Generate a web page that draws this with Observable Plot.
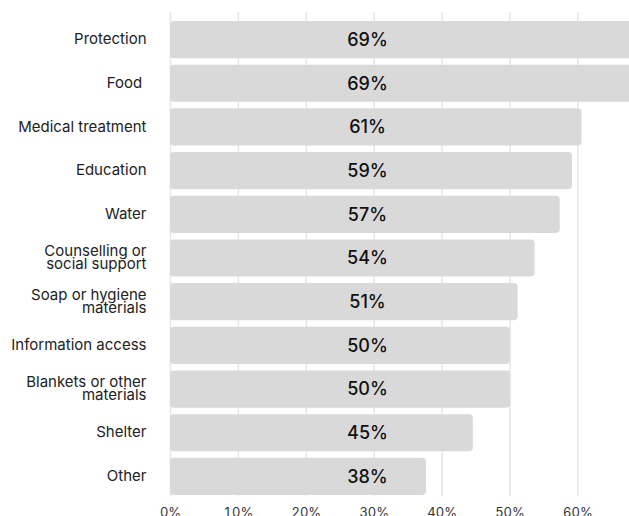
<!DOCTYPE html>
<html>
<head>
<meta charset="utf-8">
<script src="https://cdn.jsdelivr.net/npm/d3@7"></script>
<script src="https://cdn.jsdelivr.net/npm/@observablehq/plot@0.6"></script>
<style>
  html, body { margin: 0; padding: 0; background: #fff; overflow: hidden; }
  #chart svg { overflow: hidden; display: block; }
</style>
</head>
<body>
<div id="chart"></div>
<script>
const categories = [
  "Protection",
  "Food ",
  "Medical treatment",
  "Education",
  "Water",
  "Counselling or\nsocial support",
  "Soap or hygiene\nmaterials",
  "Information access",
  "Blankets or other\nmaterials",
  "Shelter",
  "Other"
];
// percentages (bar lengths; labels are rounded)
const values = [69.0, 69.0, 60.6, 59.2, 57.4, 53.7, 51.2, 50.1, 50.1, 44.6, 37.7];
const xTicks = [0, 10, 20, 30, 40, 50, 60];

const data = categories.map((c, i) => ({category: c, value: values[i]}));

const chart = Plot.plot({
  width: 629,
  height: 516,
  marginLeft: 170,
  marginRight: 0,
  marginTop: 12,
  marginBottom: 20,
  style: {fontFamily: "Inter, 'Noto Sans', sans-serif", background: "#fff", overflow: "hidden"},
  x: {domain: [0, 60], range: [170, 577.4], ticks: xTicks},
  y: {domain: categories, range: [21, 495], paddingInner: 0.15, paddingOuter: 0, round: false, axis: null},
  marks: [
    Plot.gridX(xTicks, {stroke: "#e6e6e6", strokeOpacity: 1, strokeWidth: 1.5}),
    Plot.axisX(xTicks, {tickSize: 0, tickPadding: 11, fontSize: 13, fill: "#333",
      tickFormat: d => `${d}%`, label: null}),
    Plot.barX(data, {x: "value", y: "category", fill: "#d9d9d9", rx: 4}),
    Plot.text(data, {
      x: d => 0, y: "category", dx: 197,
      text: d => `${Math.round(d.value)}%`,
      textAnchor: "middle", fontSize: 18, fontWeight: 500, fill: "#111"
    }),
    Plot.text(data, {
      x: d => 0, y: "category", dx: -24,
      text: d => d.category.replace(/ $/, "\u00a0"),
      textAnchor: "end", lineAnchor: "middle", lineHeight: 0.87,
      fontSize: 15, fill: "#222"
    })
  ]
});
document.getElementById("chart").appendChild(chart);
</script>
</body>
</html>
